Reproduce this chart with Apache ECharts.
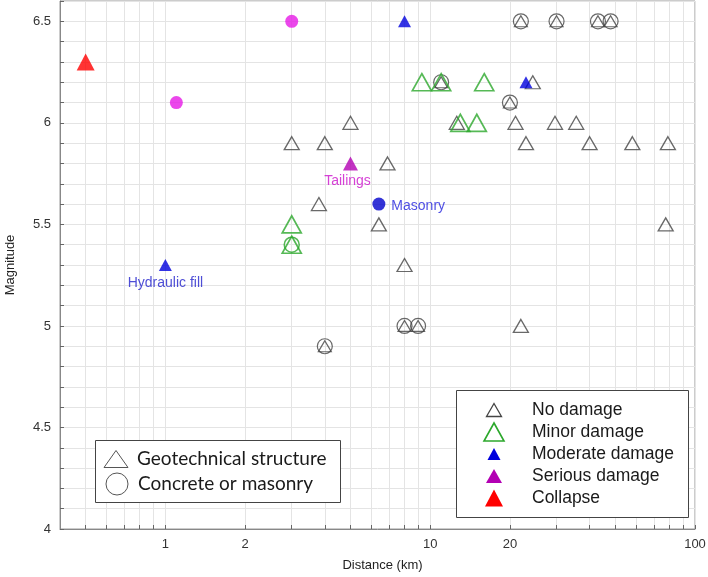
<!DOCTYPE html>
<html><head><meta charset="utf-8">
<script src="https://cdn.jsdelivr.net/npm/echarts@6/dist/echarts.min.js"></script>
<style>html,body{margin:0;padding:0;background:#fff}#c{width:708px;height:577px}</style>
</head><body><div id="c"></div>
<script>
// ---- data (distance km, magnitude) ----
const noDamageGeo = [[5,6.0],[3,5.9],[4,5.9],[6.9,5.8],[3.8,5.6],[6.4,5.5],[8,5.3],[22,5.0],[12.6,6.0],[21,6.0],[29.6,6.0],[35.6,6.0],[23,5.9],[40,5.9],[58,5.9],[79,5.9],[24.4,6.2],[77.5,5.5]];
const noDamageConcrete = [[22,6.5],[30,6.5],[43,6.5],[48,6.5],[11,6.2],[20,6.1],[8,5.0],[9,5.0],[4,4.9]];
const minorGeo = [[9.3,6.2],[11,6.2],[16,6.2],[13,6.0],[15,6.0],[3,5.5]];
const minorConcrete = [[3,5.4]];
const moderateGeo = [[8,6.5],[23,6.2],[1,5.3]];
const moderateConcrete = [[6.4,5.6]];
const seriousGeo = [[5,5.8]];
const seriousConcrete = [[3,6.5],[1.1,6.1]];
const collapseGeo = [[0.5,6.3]];
const annotations = {"1,5.3":"Hydraulic fill","5,5.8":"Tailings","6.4,5.6":"Masonry"};
const xTickValues = [0.5,0.6,0.7,0.8,0.9,1,2,3,4,5,6,7,8,9,10,20,30,40,50,60,70,80,90,100];
const xLabelValues = [1,2,10,20,100];
const yLabelValues = [4,4.5,5,5.5,6,6.5];
const legendDamage = ["No damage","Minor damage","Moderate damage","Serious damage","Collapse"];
const legendType = ["Geotechnical structure","Concrete or masonry"];

const FONT = "'Liberation Sans', Arial, sans-serif";
const chart = echarts.init(document.getElementById('c'), null, {renderer:'canvas'});

function openTri(name, data, color, size, lw){
  return {type:'scatter', name, data, symbol:'triangle', symbolSize:size, z:2,
    itemStyle:{color:'rgba(0,0,0,0)', borderColor:color, borderWidth:lw}, emphasis:{disabled:true}};
}
function openCirc(name, data, color, size, lw){
  return {type:'scatter', name, data, symbol:'circle', symbolSize:size, z:2,
    itemStyle:{color:'rgba(0,0,0,0)', borderColor:color, borderWidth:lw}, emphasis:{disabled:true}};
}
const labelPos = {
  "Hydraulic fill":{pos:'bottom', dist:5, off:[0,0]},
  "Tailings":{pos:'bottom', dist:4, off:[-3,0]},
  "Masonry":{pos:'right', dist:6, off:[0,2]}
};
function withLabels(data, color){
  return data.map(d=>{
    const t = annotations[d[0]+','+d[1]];
    if(!t) return d;
    const p = labelPos[t];
    return {value:d, label:{show:true, formatter:t, position:p.pos, distance:p.dist, offset:p.off,
      color:color, fontSize:14, fontFamily:FONT}};
  });
}
function filled(name, data, symbol, color, size, labelColor){
  return {type:'scatter', name, data: labelColor? withLabels(data, labelColor) : data,
    symbol, symbolSize:size, itemStyle:{color}, emphasis:{disabled:true}, z:3};
}

// legend graphic helpers
function triPts(cx, cy, w, h){ return [[cx, cy-h/2],[cx+w/2, cy+h/2],[cx-w/2, cy+h/2]]; }
const g = [];
// left legend box
g.push({type:'rect', shape:{x:95.5,y:440.5,width:245,height:62}, style:{fill:'#fff', stroke:'#444', lineWidth:1}, z:10});
g.push({type:'polygon', shape:{points:triPts(116,459,24,17)}, style:{fill:'none', stroke:'#555', lineWidth:1}, z:11});
g.push({type:'circle', shape:{cx:117,cy:484,r:11}, style:{fill:'none', stroke:'#555', lineWidth:1}, z:11});
g.push({type:'text', x:137, y:459, style:{text:legendType[0], font:"19px Lato, sans-serif", fill:'#1a1a1a', verticalAlign:'middle'}, z:11});
g.push({type:'text', x:138, y:484, style:{text:legendType[1], font:"19px Lato, sans-serif", fill:'#1a1a1a', verticalAlign:'middle'}, z:11});
// right legend box
g.push({type:'rect', shape:{x:456.5,y:390.5,width:232,height:127}, style:{fill:'#fff', stroke:'#444', lineWidth:1}, z:10});
const rowsY = [410,432,454,476,498];
const legSym = [
  {w:15,h:13,fill:'none',stroke:'#444',lw:1.3},
  {w:20,h:18,fill:'none',stroke:'#2ca82c',lw:1.6},
  {w:13,h:12,fill:'#0000dd',stroke:null},
  {w:16,h:14,fill:'#b300b3',stroke:null},
  {w:18,h:17,fill:'#ff0000',stroke:null}
];
legSym.forEach((s,i)=>{
  g.push({type:'polygon', shape:{points:triPts(494,rowsY[i],s.w,s.h)}, style:{fill:s.fill, stroke:s.stroke, lineWidth:s.lw||0}, z:11});
  g.push({type:'text', x:532, y:rowsY[i], style:{text:legendDamage[i], font:"17.5px "+FONT, fill:'#1a1a1a', verticalAlign:'middle'}, z:11});
});

chart.setOption({
  animation:false,
  grid:{left:60, right:13, top:1, bottom:48, show:true, borderColor:'#999', borderWidth:1, outerBoundsMode:'none', containLabel:false},
  xAxis:{type:'log', logBase:10, min:0.4, max:100,
    name:'Distance (km)', nameLocation:'middle', nameGap:30,
    nameTextStyle:{fontSize:13, color:'#222', fontFamily:FONT, padding:[0,0,0,10]},
    axisLine:{show:true, lineStyle:{color:'#888'}},
    axisTick:{show:true, inside:true, length:4, lineStyle:{color:'#666'}, customValues:xTickValues},
    axisLabel:{customValues:xLabelValues, fontSize:13, color:'#333', fontFamily:FONT, margin:9,
      formatter:v=>String(+(+v).toPrecision(6))},
    splitLine:{show:false},
    minorTick:{show:false}},
  yAxis:{type:'value', min:4, max:6.6, interval:0.1,
    name:'Magnitude', nameLocation:'middle', nameGap:43,
    nameTextStyle:{fontSize:13, color:'#222', fontFamily:FONT},
    axisLine:{show:true, lineStyle:{color:'#888'}},
    axisTick:{show:true, inside:true, length:4, lineStyle:{color:'#666'}},
    axisLabel:{customValues:yLabelValues, fontSize:13, color:'#333', fontFamily:FONT, margin:9},
    splitLine:{show:true, lineStyle:{color:'#e4e4e4', width:1}}},
  series:[
    {type:'scatter', name:'x grid', data:[], z:0, silent:true,
      markLine:{silent:true, z:0, symbol:'none', animation:false, label:{show:false},
        lineStyle:{color:'#e4e4e4', type:'solid', width:1}, emphasis:{disabled:true},
        data:xTickValues.map(v=>({xAxis:v}))}},
    openTri('No damage', noDamageGeo, '#444', [15,13], 1.3),
    openCirc('No damage (concrete)', noDamageConcrete, '#444', 15, 1.2),
    openTri('No damage (concrete) tri', noDamageConcrete, '#444', [13,11], 1.2),
    openTri('Minor damage', minorGeo, '#2ca82c', [19,17], 1.7),
    openCirc('Minor damage (concrete)', minorConcrete, '#2ca82c', 15, 1.5),
    openTri('Minor damage (concrete) tri', minorConcrete, '#2ca82c', [19,17], 1.7),
    filled('Moderate damage', moderateGeo, 'triangle', '#0000dd', [13,12], '#2222cc'),
    filled('Moderate damage (concrete)', moderateConcrete, 'circle', '#0000cc', 13, '#2222dd'),
    filled('Serious damage', seriousGeo, 'triangle', '#b300b3', [15,14], '#cc11cc'),
    filled('Serious damage (concrete)', seriousConcrete, 'circle', '#e619e6', 13),
    filled('Collapse', collapseGeo, 'triangle', '#ff0000', [18,17])
  ],
  graphic:g
});
</script></body></html>
